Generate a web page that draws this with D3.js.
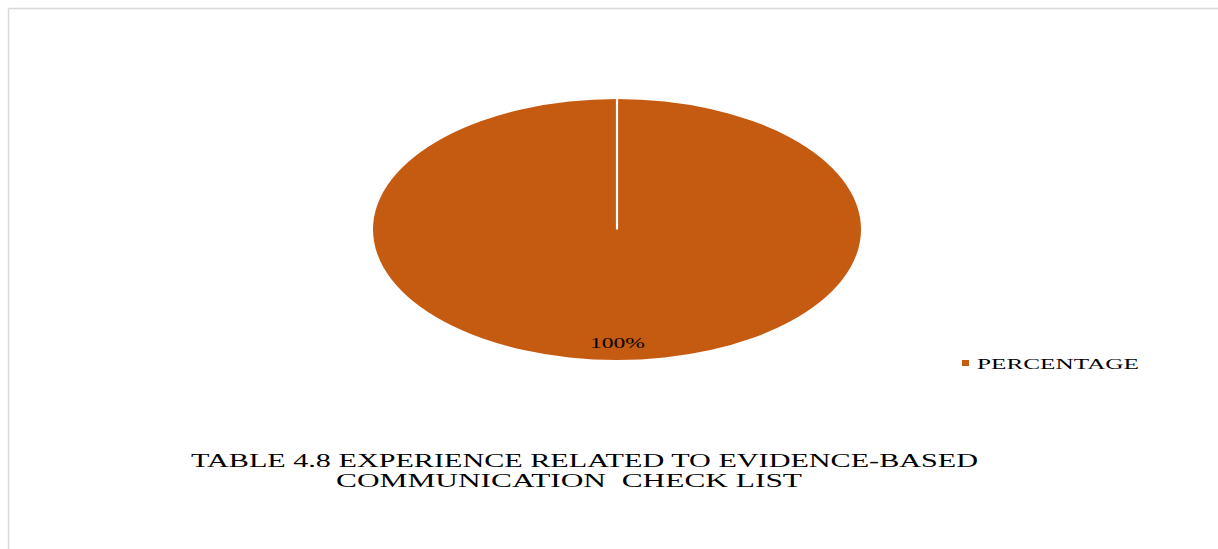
<!DOCTYPE html>
<html><head><meta charset="utf-8">
<script src="https://cdn.jsdelivr.net/npm/d3@7"></script>
<style>body{margin:0;background:#fff}svg{display:block}</style>
</head><body>
<script>
const categories = ["PERCENTAGE"];
const values = [100];
const labels = ["100%"];
const titleLines = ["TABLE 4.8 EXPERIENCE RELATED TO EVIDENCE-BASED", "COMMUNICATION  CHECK LIST"];

const W = 1218, H = 549;
const svg = d3.select("body").append("svg").attr("width", W).attr("height", H);
svg.append("rect").attr("width", W).attr("height", H).attr("fill", "#fff");
// frame
svg.append("line").attr("x1", 8.5).attr("y1", 8.5).attr("x2", W).attr("y2", 8.5).attr("stroke", "#d9d9d9").attr("stroke-width", 1.5);
svg.append("line").attr("x1", 8.5).attr("y1", 8.5).attr("x2", 8.5).attr("y2", H).attr("stroke", "#d9d9d9").attr("stroke-width", 1.5);

const color = d3.scaleOrdinal().domain(categories).range(["#C55A11"]);
const cx = 617, cy = 229.5, rx = 244, ry = 130.5;
const r = ry;
const pie = d3.pie().sort(null).value(d => d.v);
const data = pie(categories.map((c, i) => ({c, v: values[i], l: labels[i]})));
const arc = d3.arc().innerRadius(0).outerRadius(r);

const g = svg.append("g").attr("transform", `translate(${cx},${cy}) scale(${rx / ry},1)`);
g.selectAll("path.slice").data(data).join("path").attr("class", "slice")
  .attr("d", arc).attr("fill", d => color(d.data.c));
// slice boundary lines
g.selectAll("line.sep").data(data).join("line").attr("class", "sep")
  .attr("x1", 0).attr("y1", 0)
  .attr("x2", d => Math.sin(d.startAngle) * r).attr("y2", d => -Math.cos(d.startAngle) * r)
  .attr("stroke", "#fff").attr("stroke-width", 2.2).attr("vector-effect", "non-scaling-stroke");

// data labels
svg.selectAll("text.lbl").data(data).join("text").attr("class", "lbl")
  .attr("x", cx - 27).attr("y", cy + ry - 12)
  .attr("font-family", "Liberation Serif").attr("font-size", 15).attr("fill", "#000")
  .attr("textLength", 55).attr("lengthAdjust", "spacingAndGlyphs")
  .text(d => d.data.l);

// legend
const leg = svg.append("g").attr("transform", "translate(962,363)");
leg.selectAll("rect").data(categories).join("rect").attr("x", 0).attr("y", -3).attr("width", 7).attr("height", 6).attr("fill", d => color(d));
leg.selectAll("text").data(categories).join("text").attr("x", 15).attr("y", 5.5)
  .attr("font-family", "Liberation Serif").attr("font-size", 15.5).attr("fill", "#000")
  .attr("textLength", 162).attr("lengthAdjust", "spacingAndGlyphs").text(d => d);

// title
const tpos = [{x: 191, y: 467, w: 787}, {x: 336, y: 487, w: 466}];
svg.selectAll("text.title").data(titleLines).join("text").attr("class", "title")
  .attr("x", (d, i) => tpos[i].x).attr("y", (d, i) => tpos[i].y)
  .attr("font-family", "Liberation Serif").attr("font-size", 18.5).attr("fill", "#000")
  .attr("textLength", (d, i) => tpos[i].w).attr("lengthAdjust", "spacingAndGlyphs")
  .style("white-space", "pre").text(d => d);
</script>
</body></html>
